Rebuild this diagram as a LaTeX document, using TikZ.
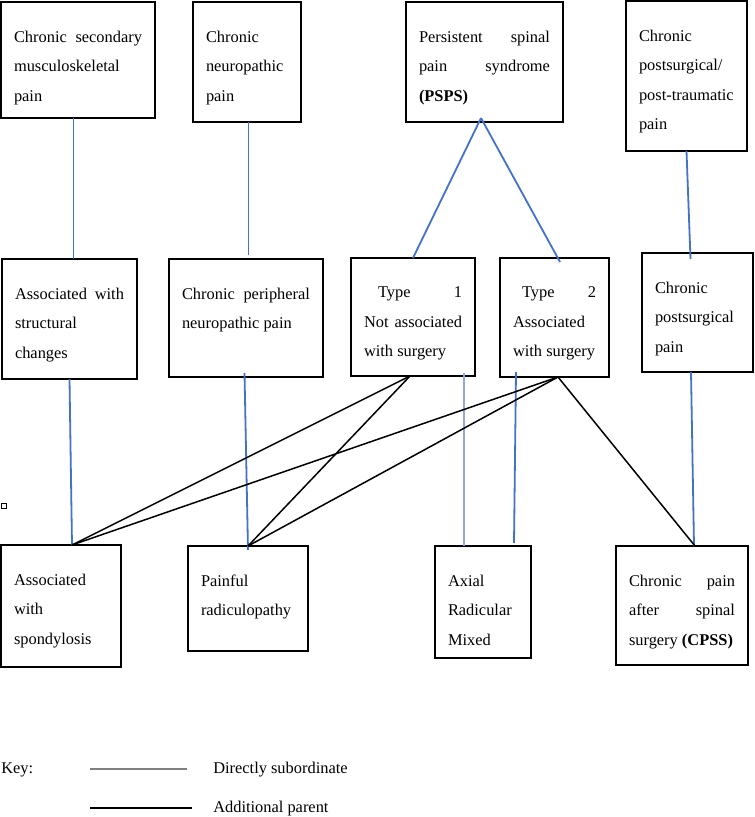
\documentclass[tikz,border=0pt]{standalone}
\usepackage{fontspec}
\setmainfont{Liberation Serif}
\usetikzlibrary{positioning,calc}
\definecolor{linkblue}{RGB}{68,114,196}
\definecolor{paleblue}{RGB}{143,170,220}
\definecolor{keygray}{RGB}{128,128,128}

\newdimen\px \px=0.75pt
\newcommand{\boxtext}[3]{\parbox[c][#2\px][t]{\dimexpr#1\px-26\px\relax}{\raggedright\vspace*{29\px}#3}}

\tikzset{
  box/.style={draw, line width=1.5\px, anchor=north west, inner xsep=13\px, inner ysep=0pt, outer sep=0pt, font=\fontsize{12.3}{22}\selectfont},
  sub/.style={linkblue, line width=1.8\px},
  extra/.style={black, line width=1.5\px},
  keytext/.style={anchor=base west, inner sep=0pt, font=\fontsize{12.3}{22}\selectfont}
}

\begin{document}
\begin{tikzpicture}[x=0.75pt,y=-0.75pt]
\useasboundingbox (0,0) rectangle (754,817);

% top row
\node[box] (msk) at (1,2) {\boxtext{154}{116}{Chronic\hfill secondary\\musculoskeletal\\pain}};
\node[box] (neuro) at (193,2) {\boxtext{108}{120}{Chronic\\neuropathic\\pain}};
\node[box] (psps) at (406,2) {\boxtext{157}{120}{Persistent\hfill spinal\\pain\hfill syndrome\\\textbf{(PSPS)}}};
\node[box] (post) at (626,1) {\boxtext{121}{150}{Chronic\\postsurgical/\\\mbox{post-traumatic}\\pain}};

% middle row
\node[box] (struct) at (2,259) {\boxtext{135}{120}{Associated\hfill with\\structural\\changes}};
\node[box] (periph) at (169,259) {\boxtext{154}{118}{Chronic\hfill peripheral\\neuropathic~pain}};
\node[box] (type1) at (351,258) {\boxtext{124}{118}{\hspace*{14\px}Type\hfill 1\\Not\hfill associated\\with~surgery}};
\node[box] (type2) at (500,258) {\boxtext{109}{119}{\hspace*{9\px}Type\hfill 2\\Associated\\with~surgery}};
\node[box] (postsurg) at (642,253) {\boxtext{111}{119}{Chronic\\postsurgical\\pain}};

% bottom row
\node[box] (spond) at (1,545) {\boxtext{120}{122}{Associated\\with\\spondylosis}};
\node[box] (radic) at (188,546) {\boxtext{120}{105}{Painful\\radiculopathy}};
\node[box] (axial) at (435,546) {\boxtext{96}{112}{Axial\\Radicular\\Mixed}};
\node[box] (cpss) at (616,546) {\boxtext{132}{119}{Chronic\hfill pain\\after\hfill spinal\\surgery~\textbf{(CPSS)}}};

\coordinate (spondtop) at ([xshift=11\px]spond.north);
\coordinate (radictop) at (radic.north);
\coordinate (t1foot) at ([xshift=-3\px]type1.south);
\coordinate (t2foot) at ([xshift=3.5\px]type2.south);

% directly subordinate
\draw[sub] ([xshift=-4.5\px]msk.south) -- ([xshift=4\px]struct.north);
\draw[sub] ([xshift=1.5\px]neuro.south) -- ([xshift=2.5\px,yshift=4\px]periph.north);
\draw[sub] ([xshift=-3.5\px,yshift=4\px]psps.south) -- (type1.north);
\draw[sub] ([xshift=-3.5\px,yshift=4\px]psps.south) -- ([xshift=5.5\px,yshift=-4\px]type2.north);
\draw[sub] (post.south) -- ([xshift=-7\px,yshift=-6\px]postsurg.north);
\draw[sub] (struct.south) -- (spondtop);
\draw[sub] ([xshift=-1.5\px,yshift=4\px]periph.south) -- ([yshift=-4\px]radictop);
\draw[sub, paleblue, line width=2\px] ([xshift=50.5\px,yshift=3\px]type1.south) -- ([xshift=-19.5\px]axial.north);
\draw[sub] ([xshift=-38.5\px,yshift=5\px]type2.south) -- ([xshift=31\px,yshift=3\px]axial.north);
\draw[sub] ([xshift=-6.5\px]postsurg.south) -- ([xshift=12\px]cpss.north);

% additional parent
\draw[extra] (t1foot) -- (spondtop);
\draw[extra] (t1foot) -- (radictop);
\draw[extra] (t2foot) -- (spondtop);
\draw[extra] (t2foot) -- (radictop);
\draw[extra] (t2foot) -- ([xshift=13\px]cpss.north);

\draw[line width=1\px] (1.5,503.5) rectangle (6.5,508.5);

% key
\node[keytext] (key) at (1,773) {Key:};
\node[keytext] (subtxt) at (213,773) {Directly subordinate};
\node[keytext] (partxt) at (213,812) {Additional parent};
\coordinate (subA) at (90,769);
\coordinate (subB) at (187,769);
\coordinate (parA) at (90,808);
\coordinate (parB) at (192,808);
\draw[keygray, line width=1.5\px] (subA) -- (subB);
\draw[extra] (parA) -- (parB);

\end{tikzpicture}
\end{document}
